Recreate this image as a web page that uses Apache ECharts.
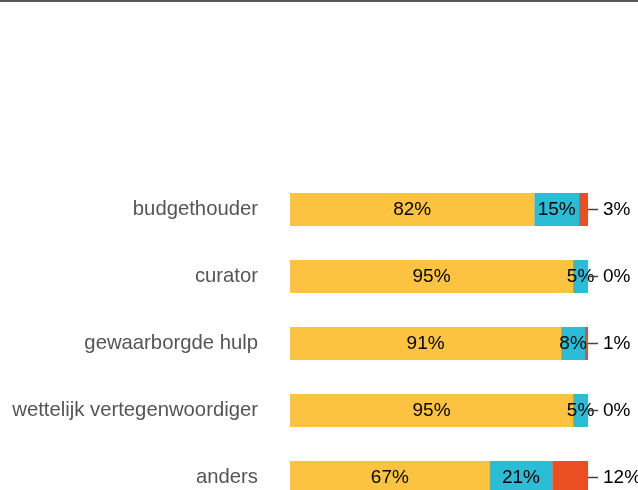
<!DOCTYPE html>
<html>
<head>
<meta charset="utf-8">
<script src="https://cdn.jsdelivr.net/npm/echarts@6/dist/echarts.min.js"></script>
<style>
  html, body { margin: 0; padding: 0; background: #fff; }
  #chart { width: 638px; height: 490px; box-sizing: border-box; border-top: 2px solid #5a5a5a; }
</style>
</head>
<body>
<div id="chart"></div>
<script>
const categories = ['budgethouder', 'curator', 'gewaarborgde hulp', 'wettelijk vertegenwoordiger', 'anders'];
const yellowValues = [82, 95, 91, 95, 67];
const blueValues = [15, 5, 8, 5, 21];
const redValues = [3, 0, 1, 0, 12];

const chart = echarts.init(document.getElementById('chart'));

const insideLabel = {
  show: true,
  position: 'inside',
  color: '#000',
  fontSize: 19,
  fontFamily: 'Liberation Sans, Arial, sans-serif',
  formatter: '{c}%'
};

chart.setOption({
  animation: false,
  grid: { left: 290, right: 50, top: 174, height: 335, outerBoundsMode: 'none' },
  xAxis: { type: 'value', min: 0, max: 100, show: false },
  yAxis: {
    type: 'category',
    data: categories,
    inverse: true,
    axisLine: { show: false },
    axisTick: { show: false },
    axisLabel: {
      margin: 32,
      color: '#555',
      fontSize: 20.3,
      fontFamily: 'Liberation Sans, Arial, sans-serif'
    }
  },
  series: [
    {
      type: 'bar', stack: 'a', data: yellowValues, barWidth: 33,
      itemStyle: { color: '#fbc33f' }, label: insideLabel
    },
    {
      type: 'bar', stack: 'a', data: blueValues, barWidth: 33,
      itemStyle: { color: '#2bbcd6' }, label: insideLabel
    },
    {
      type: 'bar', stack: 'a', data: redValues, barWidth: 33,
      itemStyle: { color: '#e94f22' },
      label: {
        show: true,
        position: 'right',
        distance: 0,
        color: '#000',
        fontSize: 19,
        fontFamily: 'Liberation Sans, Arial, sans-serif',
        formatter: '{l|}{s|}{c}%',
        rich: {
          l: { width: 10, height: 1.5, backgroundColor: '#444' },
          s: { width: 5 }
        }
      }
    }
  ]
});
</script>
</body>
</html>
